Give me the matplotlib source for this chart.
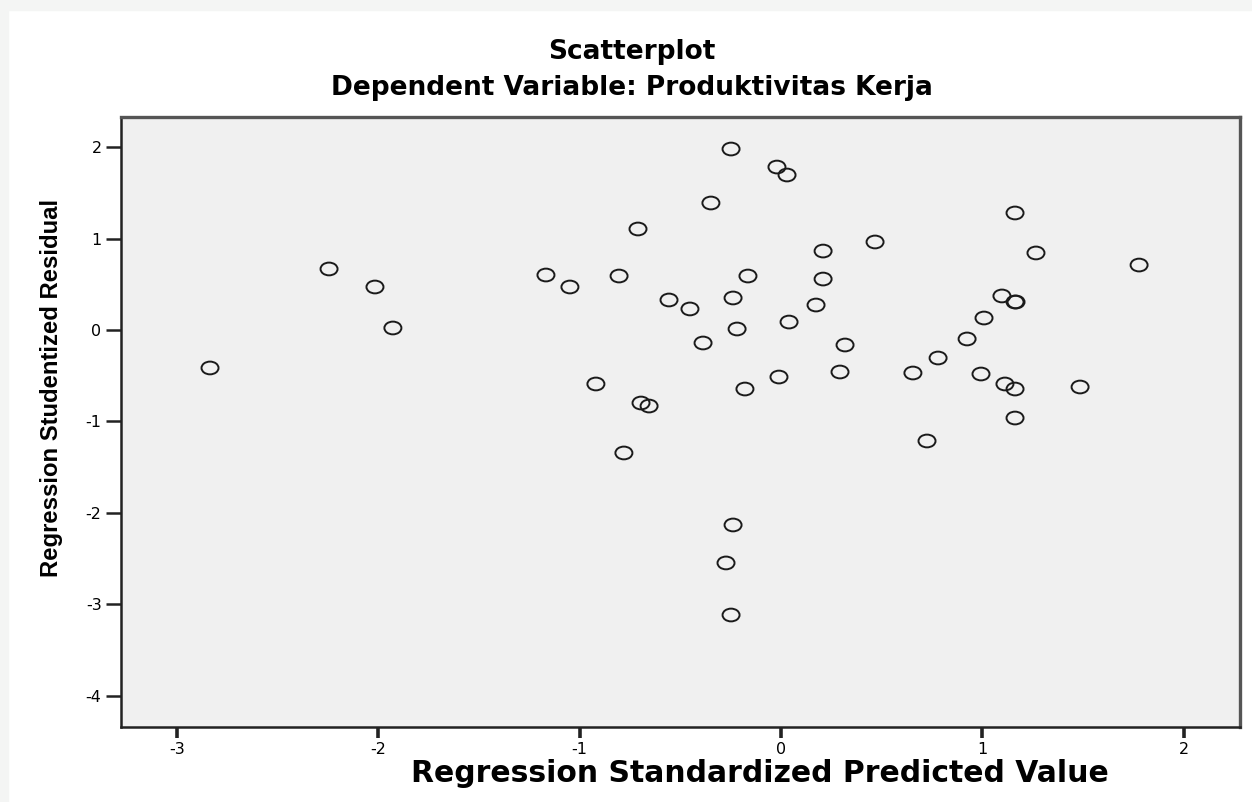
"""
 - SPSS 스타일 잔차 산점도
"""

import matplotlib
matplotlib.use('Agg')
import matplotlib.pyplot as plt
from matplotlib.path import Path
from matplotlib.transforms import Affine2D
from matplotlib.patches import Rectangle

# 원본 그림은 가로로 늘어난 모양이라 폭이 넓은 DejaVu Sans 사용
plt.rcParams['font.family'] = ['DejaVu Sans']
plt.rcParams['axes.unicode_minus'] = False  # '-' 그대로


# 1. 데이터
pred = [-2.835, -2.244, -2.016, -1.927, -1.167, -1.048, -0.710, -0.804, -0.919, -0.556,
        -0.452, -0.387, -0.695, -0.655, -0.780, -0.348, -0.248, -0.238, -0.218, -0.179,
        -0.164, -0.020, 0.030, -0.010, 0.040, -0.238, -0.273, -0.248, 0.209, 0.209,
        0.174, 0.318, 0.293, 0.467, 0.655, 0.780, 0.725, 0.924, 1.008, 0.993,
        1.097, 1.162, 1.167, 1.112, 1.162, 1.162, 1.162, 1.266, 1.485, 1.778]
resid = [-0.415, 0.667, 0.470, 0.022, 0.601, 0.470, 1.104, 0.590, -0.590, 0.328,
         0.230, -0.142, -0.798, -0.831, -1.344, 1.388, 1.978, 0.350, 0.011, -0.645,
         0.590, 1.781, 1.694, -0.514, 0.087, -2.131, -2.546, -3.115, 0.863, 0.557,
         0.273, -0.164, -0.459, 0.962, -0.470, -0.306, -1.213, -0.098, 0.131, -0.481,
         0.372, 0.306, 0.306, -0.590, -0.645, -0.962, 1.279, 0.842, -0.623, 0.710]

x_ticks = [-3, -2, -1, 0, 1, 2]
y_ticks = [-4, -3, -2, -1, 0, 1, 2]


# 2. 그래프
fig = plt.figure(figsize=(12.52, 8.02), dpi=100)
fig.patch.set_facecolor('white')
# 위쪽/왼쪽 회색 띠
fig.add_artist(Rectangle((0, 1 - 10 / 802), 1, 10 / 802, transform=fig.transFigure,
                         color='#f4f5f4', zorder=0))
fig.add_artist(Rectangle((0, 0), 8 / 1252, 1, transform=fig.transFigure,
                         color='#f4f5f4', zorder=0))

ax = fig.add_axes([121 / 1252, 1 - 727 / 802, (1240 - 121) / 1252, (727 - 117) / 802])
ax.set_facecolor('#f0f0f0')

# 타원형 빈 원 마커
ellipse = Path.unit_circle().transformed(Affine2D().scale(1.0, 0.75))
ax.scatter(pred, resid, marker=ellipse, s=150, facecolors='none',
           edgecolors='#1a1a1a', linewidths=1.4, zorder=3)

ax.set_xlim(-3.277, 2.279)
ax.set_ylim(-4.339, 2.328)
ax.set_xticks(x_ticks)
ax.set_yticks(y_ticks)
ax.tick_params(axis='x', direction='out', length=8, width=2.6, color='#222222',
               labelsize=11.5, pad=3)
ax.tick_params(axis='y', direction='out', length=11, width=1.8, color='#222222',
               labelsize=11.5, pad=3)
for s in ax.spines.values():
    s.set_color('#222222')
    s.set_linewidth(1.8)
ax.spines['top'].set_color('#555555')
ax.spines['right'].set_color('#555555')
ax.spines['top'].set_linewidth(2.4)
ax.spines['right'].set_linewidth(2.4)

fig.text(0.505, 1 - 52 / 802, 'Scatterplot', ha='center', va='center',
         fontsize=19, fontweight='bold')
fig.text(0.505, 1 - 88 / 802, 'Dependent Variable: Produktivitas Kerja',
         ha='center', va='center', fontsize=19, fontweight='bold')
fig.text(760 / 1252, 1 - 773 / 802, 'Regression Standardized Predicted Value',
         ha='center', va='center', fontsize=21.5, fontweight='bold')
fig.text(52 / 1252, 1 - 388 / 802, 'Regression Studentized Residual',
         ha='center', va='center', rotation=90, fontsize=17.2, fontweight='bold',
         family='Liberation Sans')

plt.savefig('out.png', dpi=100)
